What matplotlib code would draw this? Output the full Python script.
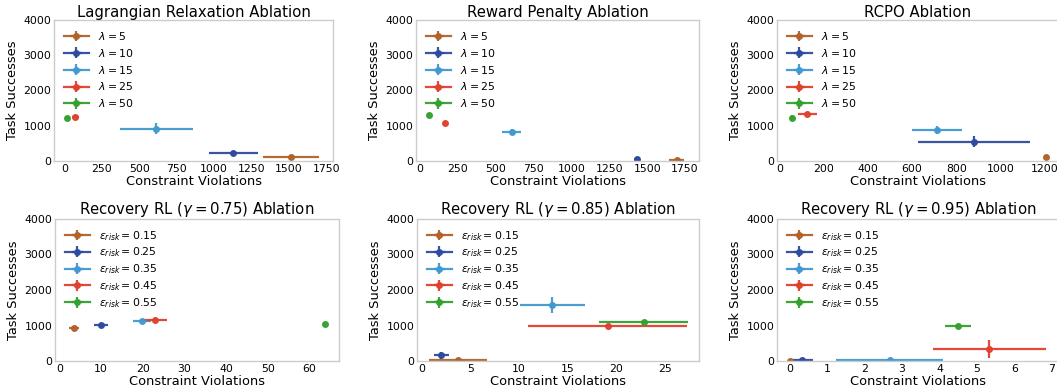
import matplotlib
matplotlib.use('Agg')
from matplotlib import pyplot as plt

colors = ['#b0622a', '#2d4b9e', '#4199d0', '#e0402e', '#34a02f']

lam_labels = [r'$\lambda = 5$', r'$\lambda = 10$', r'$\lambda = 15$', r'$\lambda = 25$', r'$\lambda = 50$']
eps_labels = [r'$\varepsilon_{risk} = 0.15$', r'$\varepsilon_{risk} = 0.25$', r'$\varepsilon_{risk} = 0.35$',
              r'$\varepsilon_{risk} = 0.45$', r'$\varepsilon_{risk} = 0.55$']

# Lagrangian Relaxation
lag_x = [1515, 1130, 615, 74, 20]
lag_xerr = [185, 165, 245, 22, 8]
lag_y = [100, 225, 915, 1240, 1230]
lag_yerr = [30, 60, 150, 30, 20]

# Reward Penalty
rp_x = [1694, 1435, 605, 165, 62]
rp_xerr = [50, 20, 62, 5, 5]
rp_y = [20, 60, 830, 1070, 1305]
rp_yerr = [10, 40, 70, 20, 20]

# RCPO
rcpo_x = [1208, 880, 712, 125, 57]
rcpo_xerr = [5, 252, 112, 43, 10]
rcpo_y = [120, 550, 880, 1333, 1230]
rcpo_yerr = [20, 150, 120, 30, 80]

# Recovery RL gamma=0.75
r75_x = [3.4, 10.0, 19.8, 23.0, 63.8]
r75_xerr = [1.2, 1.6, 2.1, 2.9, 0.2]
r75_y = [920, 1005, 1128, 1166, 1043]
r75_yerr = [60, 40, 40, 40, 20]

# Recovery RL gamma=0.85
r85_x = [3.7, 2.0, 13.4, 19.1, 22.8]
r85_xerr = [3.0, 0.78, 3.35, 8.2, 4.57]
r85_y = [15, 160, 1570, 980, 1090]
r85_yerr = [10, 90, 230, 30, 30]

# Recovery RL gamma=0.95
r95_x = [0.0, 0.34, 2.67, 5.33, 4.50]
r95_xerr = [0.02, 0.27, 1.43, 1.51, 0.35]
r95_y = [10, 15, 15, 333, 1000]
r95_yerr = [5, 10, 10, 260, 30]

panels = [
	('Lagrangian Relaxation Ablation', lag_x, lag_xerr, lag_y, lag_yerr, lam_labels, (-69, 1795), [0, 250, 500, 750, 1000, 1250, 1500, 1750]),
	('Reward Penalty Ablation', rp_x, rp_xerr, rp_y, rp_yerr, lam_labels, (-26, 1842), [0, 250, 500, 750, 1000, 1250, 1500, 1750]),
	('RCPO Ablation', rcpo_x, rcpo_xerr, rcpo_y, rcpo_yerr, lam_labels, (-12, 1265), [0, 200, 400, 600, 800, 1000, 1200]),
	(r'Recovery RL ($\gamma = 0.75$) Ablation', r75_x, r75_xerr, r75_y, r75_yerr, eps_labels, (-1.04, 67.1), [0, 10, 20, 30, 40, 50, 60]),
	(r'Recovery RL ($\gamma = 0.85$) Ablation', r85_x, r85_xerr, r85_y, r85_yerr, eps_labels, (-0.5, 28.5), [0, 5, 10, 15, 20, 25]),
	(r'Recovery RL ($\gamma = 0.95$) Ablation', r95_x, r95_xerr, r95_y, r95_yerr, eps_labels, (-0.34, 7.19), [0, 1, 2, 3, 4, 5, 6, 7]),
]

W, H = 1057, 392
positions = [
	(54, 20, 279, 141), (416, 20, 283, 141), (777, 20, 282, 141),
	(55, 219, 284, 142), (417, 219, 282, 142), (777, 219, 282, 142),
]

fig = plt.figure(figsize=(W / 100, H / 100), dpi=100)
for n, ((title, xs, xerrs, ys, yerrs, labels, xlim, xticks), (l, t, w, h)) in enumerate(zip(panels, positions)):
	ax = fig.add_axes([l / W, 1 - (t + h) / H, w / W, h / H])
	for i in range(5):
		ax.errorbar(xs[i], ys[i], xerr=xerrs[i], yerr=yerrs[i], fmt='-o', color=colors[i],
			markersize=4, linewidth=1.6, elinewidth=1.6, ecolor=colors[i], alpha=0.95, label=labels[i])
	ax.set_xlim(*xlim)
	ax.set_ylim(0, 4000)
	ax.set_xticks(xticks)
	ax.set_yticks([0, 1000, 2000, 3000, 4000])
	ax.tick_params(length=0, labelsize=7.8, pad=2)
	for s in ax.spines.values():
		s.set_color('#cccccc')
		s.set_linewidth(1)
	ax.set_title(title, fontsize=10.7, pad=2)
	ax.set_xlabel('Constraint Violations', fontsize=9.4, labelpad=1)
	ax.set_ylabel('Task Successes', fontsize=9.4, labelpad=3)
	spacing = 0.45 if n < 3 else 0.28
	ax.legend(loc='upper left', frameon=False, fontsize=7.8, handlelength=2.3,
		labelspacing=spacing, borderaxespad=0.5, handletextpad=0.9)

fig.savefig('out.png', dpi=100)
